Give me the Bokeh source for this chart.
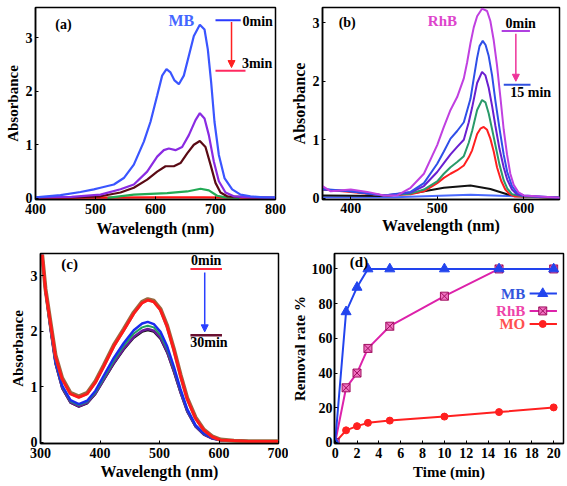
from bokeh.plotting import figure
from bokeh.layouts import row, column
from bokeh.models import Label, Arrow, NormalHead, FixedTicker, Range1d
from bokeh.embed import file_html
from bokeh.resources import INLINE

FONT = "Liberation Serif"

# ---------------- Panel (a): MB spectra ----------------
a_wl_0 = [400, 441.7, 475, 497.2, 508.3, 530.6, 547.2, 563.9, 580.6, 591.7, 602.8, 611.1, 618.3, 625, 631.7, 638.9, 647.2, 655.6, 663.9, 673.9, 681.7, 687.2, 692.8, 698.3, 705.6, 715, 727.8, 741.7, 758.3, 780, 800]
a_abs_0 = [0.02, 0.06, 0.12, 0.17, 0.20, 0.26, 0.38, 0.63, 1.06, 1.43, 1.92, 2.29, 2.41, 2.35, 2.20, 2.13, 2.29, 2.66, 3.03, 3.24, 3.15, 2.78, 2.16, 1.43, 0.81, 0.38, 0.17, 0.07, 0.04, 0.02, 0.02]
a_wl_1 = [400, 460, 508.3, 541.7, 563.9, 586.1, 602.8, 613.9, 622.2, 633.3, 644.4, 655.6, 666.7, 673.9, 681.7, 688.9, 697.2, 705.6, 716.7, 730.6, 760, 800]
a_abs_1 = [0.02, 0.03, 0.07, 0.17, 0.26, 0.50, 0.78, 0.90, 0.93, 0.90, 0.96, 1.18, 1.46, 1.59, 1.49, 1.18, 0.69, 0.32, 0.11, 0.04, 0.02, 0.01]
a_wl_2 = [400, 460, 508.3, 541.7, 563.9, 586.1, 602.8, 616.7, 630.6, 641.7, 652.8, 663.9, 673.9, 683.3, 691.7, 700, 708.3, 719.4, 760, 800]
a_abs_2 = [0.02, 0.02, 0.04, 0.11, 0.20, 0.35, 0.50, 0.60, 0.60, 0.66, 0.84, 1.00, 1.07, 0.96, 0.63, 0.29, 0.11, 0.04, 0.02, 0.01]
a_wl_3 = [520, 563.9, 619.4, 652.8, 675, 688.9, 702.8, 716.7, 740]
a_abs_3 = [0.01, 0.07, 0.10, 0.13, 0.18, 0.15, 0.05, 0.02, 0.01]
a_wl_4 = [400, 600, 680, 800]
a_abs_4 = [0.01, 0.02, 0.02, 0.01]
a_colors = ["#3a55ff", "#8a2be2", "#5a0a14", "#22aa55", "#ff1010"]
a_xticks = [400, 500, 600, 700, 800]
a_yticks = [0, 1, 2, 3]

# ---------------- Panel (b): RhB spectra ----------------
b_wl_0 = [367.3, 376.9, 400, 419.2, 438.5, 453.8, 469.2, 484.6, 500, 507.7, 515.4, 523.1, 530.8, 534.6, 538.5, 542.3, 546.2, 551.9, 557.7, 561.5, 565.4, 569.2, 573.1, 576.9, 580.8, 584.6, 588.5, 594.2, 600, 619.2, 641.5]
b_abs_0 = [0.21, 0.12, 0.15, 0.11, 0.05, 0.05, 0.18, 0.42, 0.91, 1.22, 1.51, 1.73, 2.05, 2.32, 2.65, 2.92, 3.11, 3.24, 3.20, 3.03, 2.70, 2.27, 1.73, 1.18, 0.75, 0.42, 0.23, 0.10, 0.05, 0.03, 0.01]
b_wl_1 = [367.3, 400, 438.5, 469.2, 484.6, 500, 507.7, 515.4, 523.1, 530.8, 538.5, 542.3, 546.2, 549, 552.7, 556, 559.6, 563.5, 567.3, 572, 576.9, 581, 586.5, 592, 600, 641.5]
b_abs_1 = [0.16, 0.12, 0.05, 0.11, 0.26, 0.59, 0.80, 1.02, 1.15, 1.30, 1.70, 2.05, 2.40, 2.60, 2.69, 2.62, 2.43, 2.10, 1.67, 1.20, 0.75, 0.45, 0.21, 0.10, 0.05, 0.01]
b_wl_2 = [367.3, 400, 438.5, 469.2, 484.6, 500, 507.7, 515.4, 523.1, 530.8, 536.5, 540.4, 546.2, 551.9, 555.8, 559.6, 563.5, 567.3, 572, 576.9, 581, 586.5, 592, 600, 641.5]
b_abs_2 = [0.15, 0.12, 0.05, 0.10, 0.21, 0.45, 0.60, 0.75, 0.88, 1.00, 1.30, 1.55, 1.97, 2.16, 2.10, 1.89, 1.58, 1.24, 0.85, 0.53, 0.32, 0.15, 0.07, 0.04, 0.01]
b_wl_3 = [367.3, 400, 438.5, 469.2, 484.6, 500, 507.7, 515.4, 523.1, 530.8, 536.5, 540.4, 546.2, 551.9, 555.8, 559.6, 563.5, 567.3, 572, 576.9, 581, 586.5, 600, 641.5]
b_abs_3 = [0.15, 0.12, 0.05, 0.08, 0.15, 0.29, 0.42, 0.53, 0.62, 0.72, 0.95, 1.15, 1.51, 1.68, 1.64, 1.45, 1.18, 0.91, 0.58, 0.31, 0.17, 0.07, 0.03, 0.01]
b_wl_4 = [367.3, 400, 438.5, 469.2, 484.6, 500, 507.7, 515.4, 523.1, 530.8, 536.5, 540.4, 546.2, 550, 553.8, 557.7, 561.5, 565.4, 569.2, 574, 578.8, 584, 590, 641.5]
b_abs_4 = [0.15, 0.11, 0.05, 0.07, 0.12, 0.26, 0.35, 0.42, 0.48, 0.56, 0.70, 0.82, 1.10, 1.19, 1.22, 1.17, 1.02, 0.80, 0.53, 0.30, 0.15, 0.07, 0.03, 0.01]
b_wl_5 = [367.3, 438.5, 476.9, 507.7, 538.5, 561.5, 580.8, 600, 641.5]
b_abs_5 = [0.05, 0.04, 0.10, 0.18, 0.22, 0.16, 0.07, 0.03, 0.01]
b_wl_6 = [367.3, 450, 538.5, 580.8, 641.5]
b_abs_6 = [0.02, 0.02, 0.06, 0.04, 0.01]
b_colors = ["#c040e0", "#2f4fe8", "#6a1fd0", "#2a9a6a", "#ff1f1f", "#111111", "#4a6aff"]
b_xticks = [400, 500, 600]
b_yticks = [0, 1, 2, 3]

# ---------------- Panel (c): MO spectra ----------------
c_wl = [302.8, 308.4, 316.8, 325.2, 336.4, 350.4, 364.4, 378.4, 392.4, 406.4, 423.2, 440, 456.8, 470.8, 480.3, 490.4, 501.7, 512.9, 524, 535.3, 546.6, 560.5, 574.5, 588.6, 602.5, 625, 650, 700]
c_abs_0 = [3.38, 2.76, 2.16, 1.57, 1.16, 0.89, 0.83, 0.89, 1.10, 1.39, 1.75, 2.04, 2.34, 2.53, 2.58, 2.55, 2.40, 2.10, 1.69, 1.22, 0.80, 0.45, 0.23, 0.11, 0.05, 0.03, 0.02, 0.02]
c_abs_1 = [3.38, 2.74, 2.14, 1.55, 1.14, 0.87, 0.81, 0.87, 1.08, 1.37, 1.73, 2.02, 2.32, 2.51, 2.56, 2.53, 2.38, 2.08, 1.67, 1.20, 0.78, 0.43, 0.22, 0.10, 0.04, 0.03, 0.02, 0.02]
c_abs_2 = [3.38, 2.74, 2.08, 1.46, 1.02, 0.76, 0.69, 0.75, 0.93, 1.20, 1.52, 1.79, 2.02, 2.14, 2.17, 2.13, 1.99, 1.73, 1.37, 0.96, 0.60, 0.31, 0.16, 0.08, 0.04, 0.03, 0.02, 0.02]
c_abs_3 = [3.38, 2.73, 2.06, 1.44, 1.00, 0.74, 0.67, 0.73, 0.90, 1.16, 1.47, 1.74, 1.96, 2.07, 2.10, 2.07, 1.93, 1.68, 1.33, 0.93, 0.58, 0.30, 0.15, 0.08, 0.04, 0.03, 0.02, 0.02]
c_abs_4 = [3.38, 2.72, 2.04, 1.42, 0.98, 0.72, 0.65, 0.71, 0.88, 1.13, 1.43, 1.69, 1.90, 2.01, 2.04, 2.01, 1.88, 1.63, 1.29, 0.90, 0.56, 0.29, 0.14, 0.07, 0.04, 0.03, 0.02, 0.02]
c_abs_5 = [3.38, 2.72, 2.03, 1.41, 0.97, 0.71, 0.64, 0.70, 0.87, 1.12, 1.41, 1.67, 1.88, 1.99, 2.02, 1.99, 1.86, 1.61, 1.27, 0.89, 0.55, 0.28, 0.14, 0.07, 0.04, 0.03, 0.02, 0.02]
c_colors = ["#9a6a40", "#ff1a1a", "#1a2aee", "#20a060", "#6a1b9a", "#111111"]
c_xticks = [300, 400, 500, 600, 700]
c_yticks = [0, 1, 2, 3]

# ---------------- Panel (d): removal rate ----------------
d_time = [0, 1, 2, 3, 5, 10, 15, 20]
d_mb = [0, 75.3, 89.4, 100, 100, 100, 100, 100]
d_rhb = [0, 31.5, 40.0, 54.2, 67.0, 84.3, 100, 100]
d_mo = [0, 7.0, 9.4, 11.3, 12.6, 14.9, 17.5, 20.2]
d_names = ["MB", "RhB", "MO"]
d_colors = ["#2244ee", "#dd22aa", "#ff2020"]
d_text_colors = ["#3355dd", "#ee44aa", "#ff5050"]
d_xticks = [0, 2, 4, 6, 8, 10, 12, 14, 16, 18, 20]
d_yticks = [0, 20, 40, 60, 80, 100]


def make_fig(w, h, left, right, top, bottom, xr, yr, xticks, yticks, xlabel, ylabel,
             ylabel_size="15px", x_std=(4, 3), y_std=(3, 2)):
    p = figure(width=w, height=h, x_range=Range1d(*xr), y_range=Range1d(*yr),
               output_backend="svg", toolbar_location=None,
               min_border_left=left, min_border_right=right,
               min_border_top=top, min_border_bottom=bottom)
    p.xgrid.visible = False
    p.ygrid.visible = False
    p.outline_line_color = "black"
    p.outline_line_width = 1.5
    p.outline_line_alpha = 1.0
    p.xaxis.ticker = FixedTicker(ticks=xticks)
    p.yaxis.ticker = FixedTicker(ticks=yticks)
    p.xaxis.axis_label = xlabel
    p.yaxis.axis_label = ylabel
    for ax in (p.xaxis[0], p.yaxis[0]):
        ax.axis_line_width = 1.5
        ax.axis_line_color = "black"
        ax.major_label_text_font = FONT
        ax.major_label_text_font_style = "bold"
        ax.major_label_text_font_size = "14px"
        ax.major_label_text_color = "black"
        ax.axis_label_text_font = FONT
        ax.axis_label_text_font_style = "bold"
        ax.axis_label_text_color = "black"
        ax.minor_tick_line_color = None
        ax.major_tick_line_color = "black"
        ax.major_tick_in = 3
        ax.major_tick_out = 0
    p.xaxis[0].axis_label_text_font_size = "16px"
    p.yaxis[0].axis_label_text_font_size = ylabel_size
    p.xaxis[0].major_label_standoff = x_std[0]
    p.xaxis[0].axis_label_standoff = x_std[1]
    p.yaxis[0].major_label_standoff = y_std[0]
    p.yaxis[0].axis_label_standoff = y_std[1]
    return p


def label(p, x, y, text, size="14px", color="black", align="left"):
    p.add_layout(Label(x=x, y=y, text=text, text_font=FONT, text_font_style="bold",
                       text_font_size=size, text_color=color, text_align=align,
                       text_baseline="middle"))


def arrow(p, x, y0, y1, color):
    p.add_layout(Arrow(end=NormalHead(size=7, line_color=color, fill_color=color),
                       x_start=x, y_start=y0, x_end=x, y_end=y1,
                       line_color=color, line_width=1.5))


# ---- (a)
pa = make_fig(286, 243, 35, 11, 7, 44, (400, 800), (-0.02, 3.56), a_xticks, a_yticks,
              "Wavelength (nm)", "Absorbance")
for wl, ab, c in zip([a_wl_4, a_wl_3, a_wl_2, a_wl_1, a_wl_0],
                     [a_abs_4, a_abs_3, a_abs_2, a_abs_1, a_abs_0],
                     [a_colors[4], a_colors[3], a_colors[2], a_colors[1], a_colors[0]]):
    pa.line(wl, ab, line_color=c, line_width=2.2)
label(pa, 433, 3.24, "(a)")
label(pa, 643, 3.31, "MB", size="16px", color="#4466ff", align="center")
pa.line([700, 742], [3.32, 3.32], line_color="#2a3aff", line_width=2)
label(pa, 745, 3.30, "0min")
arrow(pa, 726.7, 3.29, 2.44, "#ff2020")
pa.line([700, 750], [2.38, 2.38], line_color="#ff2a60", line_width=2)
label(pa, 744, 2.51, "3min")

# ---- (b)
pb = make_fig(280, 243, 36, 7, 3, 40, (367.3, 641.5), (-0.02, 3.26), b_xticks, b_yticks,
              "Wavelength (nm)", "Absorbance", ylabel_size="16px", x_std=(3, 1))
b_all = [(b_wl_6, b_abs_6), (b_wl_5, b_abs_5), (b_wl_4, b_abs_4), (b_wl_3, b_abs_3),
         (b_wl_2, b_abs_2), (b_wl_1, b_abs_1), (b_wl_0, b_abs_0)]
b_cols = [b_colors[6], b_colors[5], b_colors[4], b_colors[3], b_colors[2], b_colors[1], b_colors[0]]
for (wl, ab), c in zip(b_all, b_cols):
    pb.line(wl, ab, line_color=c, line_width=2)
label(pb, 386, 3.0, "(b)")
label(pb, 506, 3.03, "RhB", size="15px", color="#dd44cc", align="center")
label(pb, 579, 2.98, "0min")
pb.line([574.6, 607.3], [2.86, 2.86], line_color="#b040e0", line_width=2)
arrow(pb, 591, 2.81, 2.0, "#ee3399")
pb.line([577, 608], [1.94, 1.94], line_color="#3050e0", line_width=2)
label(pb, 584.6, 1.81, "15 min")

# ---- (c)
pc = make_fig(288, 242, 40, 10, 10, 41, (300, 700), (-0.02, 3.40), c_xticks, c_yticks,
              "Wavelength (nm)", "Absorbance", x_std=(4, 2))
c_series = [c_abs_5, c_abs_4, c_abs_3, c_abs_2, c_abs_0, c_abs_1]
c_cols = [c_colors[5], c_colors[4], c_colors[3], c_colors[2], c_colors[0], c_colors[1]]
c_widths = [2, 2.5, 2, 2.5, 4, 2.8]
for ab, col, lw in zip(c_series, c_cols, c_widths):
    pc.line(c_wl, ab, line_color=col, line_width=lw)
label(pc, 335, 3.21, "(c)", size="15px")
label(pc, 578.5, 3.27, "0min", align="center")
pc.line([552, 605], [3.12, 3.12], line_color="#ff2a40", line_width=2)
arrow(pc, 576, 3.06, 1.99, "#2a40ff")
pc.line([552, 605], [1.93, 1.93], line_color="#6a1030", line_width=2.5)
label(pc, 583, 1.79, "30min", align="center")

# ---- (d)
pd_ = make_fig(278, 242, 41, 3, 7, 42, (-0.06, 20.9), (-0.6, 108.9), d_xticks, d_yticks,
               "Time (min)", "Removal rate %", ylabel_size="15px", y_std=(2, 1))
pd_.xaxis[0].axis_label_text_font_size = "15px"
pd_.line(d_time, d_mo, line_color=d_colors[2], line_width=2)
pd_.scatter(d_time, d_mo, marker="circle", size=7, fill_color=d_colors[2], line_color=d_colors[2])
pd_.line(d_time, d_rhb, line_color=d_colors[1], line_width=2)
pd_.scatter(d_time, d_rhb, marker="square_x", size=8, fill_color="#f070c0", line_color="#a01060")
pd_.line(d_time, d_mb, line_color=d_colors[0], line_width=2)
pd_.scatter(d_time, d_mb, marker="triangle", size=10, fill_color=d_colors[0], line_color=d_colors[0])
label(pd_, 1.34, 104, "(d)", size="15px")
leg_y = [85.8, 75.8, 68.3]
leg_markers = ["triangle", "square_x", "circle"]
leg_sizes = [10, 8, 7]
leg_fill = [d_colors[0], "#f070c0", d_colors[2]]
leg_line = [d_colors[0], "#a01060", d_colors[2]]
for name, y, tc, lc, mk, ms, fc, mlc in zip(d_names, leg_y, d_text_colors, d_colors,
                                            leg_markers, leg_sizes, leg_fill, leg_line):
    label(pd_, 17.4, y, name, size="15px", color=tc, align="right")
    pd_.line([17.8, 20.3], [y, y], line_color=lc, line_width=2)
    pd_.scatter([19.0], [y], marker=mk, size=ms, fill_color=fc, line_color=mlc)

layout = column(row(pa, pb), row(pc, pd_))
open("out.html", "w").write(file_html(layout, INLINE))
